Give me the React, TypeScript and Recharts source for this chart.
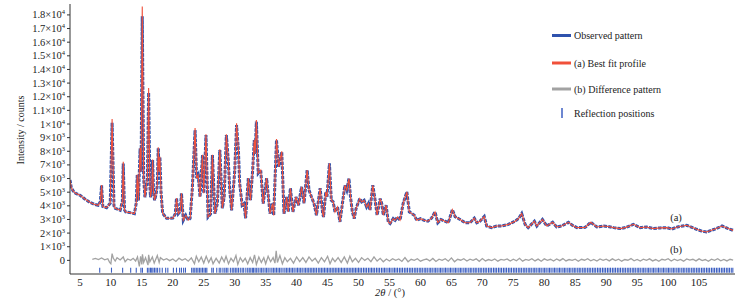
import { ComposedChart, Line, Scatter, XAxis, YAxis } from "recharts";

// 2θ positions of the sampled profile points
const profileTheta = [
  3.4, 3.6, 3.9, 4.3, 5.0, 5.8, 6.6, 7.3, 7.95, 8.3,
  8.5, 8.7, 9.3, 9.9, 10.2, 10.5, 10.7, 11.5, 11.85, 12.0,
  12.2, 12.4, 13.1, 13.8, 14.1, 14.26, 14.45, 14.72, 14.88, 15.07,
  15.3, 15.5, 15.9, 16.1, 16.3, 16.4, 16.6, 16.74, 16.9, 17.06,
  17.3, 17.5, 17.65, 17.8, 17.92, 18.1, 18.36, 19.0, 20.0, 20.4,
  20.6, 20.9, 21.2, 21.4, 21.7, 22.1, 22.5, 22.8, 23.14, 23.6,
  23.85, 24.1, 24.4, 24.8, 25.0, 25.36, 25.7, 26.1, 26.4, 26.8,
  27.2, 27.6, 28.0, 28.3, 28.65, 28.96, 29.2, 29.5, 30.0, 30.3,
  30.6, 30.8, 31.2, 31.5, 31.76, 32.2, 32.55, 32.9, 33.16, 33.3,
  33.5, 33.8, 34.2, 34.6, 35.15, 35.7, 36.1, 36.3, 36.75, 37.1,
  37.6, 37.96, 38.4, 38.65, 39.0, 39.4, 39.9, 40.3, 40.8, 41.2,
  41.7, 42.0, 42.4, 42.8, 43.2, 43.8, 44.2, 44.35, 44.7, 44.9,
  45.3, 45.6, 45.9, 46.2, 46.6, 47.0, 47.4, 47.8, 48.1, 48.45,
  48.7, 49.0, 49.3, 49.6, 50.2, 50.5, 50.9, 51.3, 51.6, 51.85,
  52.3, 52.6, 53.0, 53.5, 53.75, 54.0, 54.3, 54.45, 54.8, 55.1,
  55.6, 55.9, 56.3, 56.7, 57.2, 57.8, 58.2, 58.6, 59.0, 59.4,
  60.0, 60.6, 61.2, 61.8, 62.35, 62.8, 63.3, 63.95, 64.5, 65.15,
  65.6, 66.4, 67.2, 68.0, 68.7, 69.1, 69.6, 70.3, 70.7, 71.5,
  72.3, 73.1, 74.2, 75.3, 75.9, 76.35, 76.9, 77.4, 78.4, 78.8,
  79.7, 80.4, 81.35, 82.0, 82.8, 83.9, 84.7, 85.3, 86.6, 87.5,
  88.5, 89.6, 90.3, 91.2, 92.3, 93.2, 94.4, 95.5, 96.5, 97.6,
  98.7, 99.8, 100.6, 101.5, 103.0, 104.6, 105.4, 106.2, 107.8, 108.7,
  109.6, 110.5,
];

const observed = [
  5900, 5350, 5100, 4920, 4780, 4500, 4260, 4120, 4040, 4300,
  5500, 3950, 3860, 4200, 10100, 4000, 3820, 3670, 4300, 7100,
  3700, 3550, 3500, 3430, 4200, 6250, 4400, 8200, 6500, 17900,
  6000, 4630, 6000, 12300, 5500, 4630, 5200, 7350, 5000, 4410,
  4850, 5500, 8230, 6500, 7570, 5000, 3450, 3090, 3100, 3400,
  4560, 3430, 3600, 4920, 2940, 3300, 2950, 3090, 5150, 9560,
  6020, 6250, 4650, 7720, 4920, 9190, 3180, 3400, 7720, 3420,
  4150, 8090, 3820, 4650, 9190, 7350, 5150, 3670, 6500, 9920,
  8090, 5660, 4040, 4160, 3090, 6030, 4410, 6620, 8820, 7800,
  10170, 6390, 6620, 4160, 6030, 3420, 4160, 3300, 8820, 6860,
  7960, 3420, 4650, 3550, 5290, 3550, 4650, 4040, 5390, 4190,
  6620, 5150, 4650, 4190, 3310, 5290, 3450, 3180, 5020, 4650,
  7110, 4410, 4290, 3550, 3920, 2820, 4190, 5510, 5150, 6000,
  4660, 3560, 3060, 3800, 4530, 4290, 4410, 3920, 4170, 3680,
  5510, 4660, 3310, 4530, 4170, 3310, 3800, 4040, 2820, 2700,
  3060, 2940, 3180, 2940, 4170, 5020, 3560, 3430, 3310, 2940,
  3060, 2940, 2870, 3100, 3550, 2760, 3000, 2870, 2760, 3720,
  3200, 3000, 2760, 2760, 3090, 2760, 2870, 3210, 2520, 2400,
  2520, 2520, 2640, 2870, 3100, 3430, 2640, 2400, 2870, 2520,
  3000, 2520, 2790, 2450, 2520, 2790, 2520, 2400, 2420, 2790,
  2450, 2520, 2480, 2400, 2330, 2420, 2640, 2400, 2450, 2330,
  2380, 2400, 2300, 2450, 2570, 2280, 2150, 2080, 2330, 2520,
  2350, 2200,
];

const fitted = [
  5900, 5350, 5100, 4920, 4780, 4500, 4260, 4120, 4040, 4300,
  5520, 3950, 3860, 4200, 10360, 4000, 3820, 3670, 4300, 7230,
  3700, 3550, 3500, 3430, 4200, 6300, 4400, 8230, 6500, 18620,
  6000, 4630, 6000, 12640, 5500, 4630, 5200, 7400, 5000, 4410,
  4850, 5500, 8300, 6500, 7600, 5000, 3450, 3090, 3100, 3400,
  4560, 3430, 3600, 4920, 2940, 3300, 2950, 3090, 5150, 9700,
  6020, 6250, 4650, 7750, 4920, 9250, 3180, 3400, 7750, 3420,
  4150, 8150, 3820, 4650, 9250, 7350, 5150, 3670, 6500, 10050,
  8090, 5660, 4040, 4160, 3090, 6030, 4410, 6620, 8850, 7800,
  10300, 6390, 6620, 4160, 6030, 3420, 4160, 3300, 8900, 6860,
  8000, 3420, 4650, 3550, 5290, 3550, 4650, 4040, 5390, 4190,
  6620, 5150, 4650, 4190, 3310, 5290, 3450, 3180, 5020, 4650,
  7110, 4410, 4290, 3550, 3920, 2820, 4190, 5510, 5150, 6000,
  4660, 3560, 3060, 3800, 4530, 4290, 4410, 3920, 4170, 3680,
  5510, 4660, 3310, 4530, 4170, 3310, 3800, 4040, 2820, 2700,
  3060, 2940, 3180, 2940, 4170, 5020, 3560, 3430, 3310, 2940,
  3060, 2940, 2870, 3100, 3550, 2760, 3000, 2870, 2760, 3720,
  3200, 3000, 2760, 2760, 3090, 2760, 2870, 3210, 2520, 2400,
  2520, 2520, 2640, 2870, 3100, 3430, 2640, 2400, 2870, 2520,
  3000, 2520, 2790, 2450, 2520, 2790, 2520, 2400, 2420, 2790,
  2450, 2520, 2480, 2400, 2330, 2420, 2640, 2400, 2450, 2330,
  2380, 2400, 2300, 2450, 2570, 2280, 2150, 2080, 2330, 2520,
  2350, 2200,
];

// [2θ, obs - calc]
const differenceData: [number, number][] = [
  [7.0, 80], [7.5, 150], [8.0, 60], [8.5, 180], [9.0, 40], [9.5, 120], [9.8, -150], [10.0, -250],
  [10.2, 500], [10.4, 150], [10.7, -50], [11.0, 200], [11.5, 30], [12.0, 250], [12.3, -100], [12.7, 100],
  [13.2, 0], [13.6, 150], [14.0, -50], [14.3, 250], [14.6, -450], [14.8, 300], [15.0, -300], [15.1, 450],
  [15.3, -150], [15.6, 200], [16.0, -350], [16.1, 400], [16.3, -100], [16.7, 250], [17.0, -200], [17.5, 350],
  [17.8, -150], [18.0, 200], [18.5, 20], [19.0, 120], [19.5, -20], [20.0, 100], [20.5, -80], [21.0, 160],
  [21.5, 0], [22.0, 120], [22.5, -60], [23.0, 180], [23.5, -250], [23.8, 300], [24.2, -100], [24.6, 250],
  [25.0, -200], [25.4, 300], [25.8, -150], [26.2, 200], [26.5, -250], [27.0, 150], [27.5, -200], [27.9, 250],
  [28.3, -100], [28.6, 300], [29.0, -250], [29.4, 150], [29.8, -100], [30.2, 350], [30.5, -300], [30.9, 200],
  [31.3, -100], [31.7, 150], [32.1, -250], [32.5, 200], [32.9, -150], [33.2, 400], [33.5, -300], [33.9, 250],
  [34.3, -150], [34.7, 200], [35.0, -250], [35.4, 300], [35.8, -100], [36.2, 200], [36.5, -200], [36.7, 700],
  [36.9, -150], [37.3, 350], [37.7, -250], [38.1, 200], [38.5, -100], [39.0, 150], [39.5, -200], [40.0, 250],
  [40.5, -100], [41.0, 200], [41.5, -150], [42.0, 250], [42.5, -50], [43.0, 150], [43.5, -200], [44.0, 200],
  [44.5, -100], [45.0, 300], [45.4, -250], [45.8, 150], [46.2, -100], [46.7, 200], [47.2, -150], [47.7, 250],
  [48.2, -200], [48.6, 300], [49.0, -100], [49.5, 150], [50.0, -150], [50.5, 200], [51.0, 0], [51.5, 150],
  [52.0, -100], [52.5, 250], [53.0, -50], [53.5, 150], [54.0, -100], [54.5, 100], [55.0, -50], [55.5, 120],
  [56.0, 0], [56.5, 100], [57.0, -80], [57.5, 200], [58.0, -100], [58.5, 80], [59.0, 0], [59.5, 120],
  [60.0, -60], [60.5, 40], [61.0, 100], [61.5, -40], [62.0, 140], [62.5, -80], [63.0, 90], [63.5, 0],
  [64.0, 120], [64.5, -60], [65.0, 180], [65.5, -100], [66.0, 80], [66.5, 10], [67.0, 120], [67.5, -50],
  [68.0, 90], [68.5, 0], [69.0, 110], [69.5, -70], [70.0, 130], [70.5, -40], [71.0, 60], [71.5, -20],
  [72.0, 100], [72.5, -60], [73.0, 70], [73.5, 20], [74.0, 110], [74.5, -50], [75.0, 80], [75.5, -30],
  [76.0, 150], [76.5, -60], [77.0, 70], [77.5, 0], [78.0, 120], [78.5, -40], [79.0, 90], [79.5, -60],
  [80.0, 110], [80.5, 0], [81.0, 80], [81.5, -50], [82.0, 100], [82.5, -20], [83.0, 130], [83.5, -40],
  [84.0, 60], [84.5, 0], [85.0, 90], [85.5, -60], [86.0, 80], [86.5, 10], [87.0, 120], [87.5, -30],
  [88.0, 70], [88.5, -50], [89.0, 100], [89.5, 0], [90.0, 90], [90.5, -40], [91.0, 110], [91.5, -20],
  [92.0, 80], [92.5, -60], [93.0, 60], [93.5, 10], [94.0, 130], [94.5, -30], [95.0, 70], [95.5, -50],
  [96.0, 90], [96.5, 0], [97.0, 110], [97.5, -40], [98.0, 60], [98.5, -70], [99.0, 80], [99.5, 20],
  [100.0, 120], [100.5, -50], [101.0, 90], [101.5, -10], [102.0, 70], [102.5, -60], [103.0, 100], [103.5, 20],
  [104.0, 80], [104.5, -40], [105.0, 110], [105.5, -20], [106.0, 60], [106.5, -70], [107.0, 90], [107.5, 0],
  [108.0, 120], [108.5, -30], [109.0, 70], [109.5, -40], [110.0, 80], [110.5, 20],
];

// Bragg reflection positions (2θ)
const reflections = [
  8.2, 10.1, 11.9, 13.2, 14.1, 14.85, 15.1, 15.9, 16.15, 16.4, 16.6, 16.8, 17.05, 17.3, 17.55, 17.9,
  18.3, 18.85, 19.2, 20.1, 20.6, 21.1, 21.4, 21.75, 22.05, 23.05, 23.3, 23.55, 23.8, 24.05, 24.3, 24.55,
  24.8, 25.05, 25.3, 25.5, 26.3, 26.55, 27.1, 27.5, 27.75, 28.1, 28.4, 28.65, 28.9, 29.3, 29.6, 29.85,
  30.1, 30.35, 30.6, 30.9, 31.2, 31.45, 31.8, 32.1, 32.35, 32.6, 32.85, 33.05, 33.3, 33.55, 33.8, 34.1,
  34.35, 34.6, 34.9, 35.15, 35.4, 35.7, 36.0, 36.25, 36.5, 36.75, 37.0, 37.25, 37.5, 37.8, 38.1, 38.35,
  38.6, 38.85, 39.1, 39.35, 39.6, 39.9, 40.15, 40.4, 40.65, 40.9, 41.2, 41.45, 41.7, 41.95, 42.2, 42.45,
  42.7, 42.95, 43.2, 43.5, 43.75, 44.0, 44.25, 44.5, 44.75, 45.0, 45.25, 45.5, 45.75, 46.0, 46.25, 46.5,
  46.75, 47.0, 47.25, 47.5, 47.75, 48.0, 48.25, 48.5, 48.75, 49.0, 49.25, 49.5, 49.75, 50.0,
  50.25, 50.5, 50.8, 51.05, 51.3, 51.6, 51.85, 52.1, 52.35, 52.6, 52.9, 53.15, 53.4, 53.7, 53.95, 54.2,
  54.45, 54.75, 55.0, 55.25, 55.55, 55.8, 56.05, 56.3, 56.6, 56.85, 57.1, 57.4, 57.65, 57.9, 58.2, 58.45,
  58.7, 59.0, 59.25, 59.5, 59.8, 60.05, 60.3, 60.6, 60.85, 61.1, 61.4, 61.65, 61.9, 62.2, 62.45, 62.7,
  63.0, 63.25, 63.5, 63.8, 64.05, 64.3, 64.6, 64.85, 65.1, 65.4, 65.65, 65.9, 66.2, 66.45, 66.7, 67.0,
  67.25, 67.5, 67.8, 68.05, 68.3, 68.6, 68.85, 69.1, 69.4, 69.65, 69.9, 70.2, 70.45, 70.7, 71.0, 71.25,
  71.5, 71.8, 72.05, 72.3, 72.6, 72.85, 73.1, 73.4, 73.65, 73.9, 74.2, 74.45, 74.7, 75.0, 75.25, 75.5,
  75.8, 76.05, 76.3, 76.6, 76.85, 77.1, 77.4, 77.65, 77.9, 78.2, 78.45, 78.7, 79.0, 79.25, 79.5, 79.8,
  80.05, 80.3, 80.6, 80.85, 81.1, 81.4, 81.65, 81.9, 82.2, 82.45, 82.7, 83.0, 83.25, 83.5, 83.8, 84.05,
  84.3, 84.6, 84.85, 85.1, 85.4, 85.65, 85.9, 86.2, 86.45, 86.7, 87.0, 87.25, 87.5, 87.8, 88.05, 88.3,
  88.6, 88.85, 89.1, 89.4, 89.65, 89.9, 90.2, 90.45, 90.7, 91.0, 91.25, 91.5, 91.8, 92.05, 92.3, 92.6,
  92.85, 93.1, 93.4, 93.65, 93.9, 94.2, 94.45, 94.7, 95.0, 95.25, 95.5, 95.8, 96.05, 96.3, 96.6, 96.85,
  97.1, 97.4, 97.65, 97.9, 98.2, 98.45, 98.7, 99.0, 99.25, 99.5, 99.8, 100.05, 100.3, 100.6, 100.85, 101.1,
  101.4, 101.65, 101.9, 102.2, 102.45, 102.7, 103.0, 103.25, 103.5, 103.8, 104.05, 104.3, 104.6, 104.85, 105.1, 105.4,
  105.65, 105.9, 106.2, 106.45, 106.7, 107.0, 107.25, 107.5, 107.8, 108.05, 108.3, 108.6, 108.85, 109.1, 109.4, 109.65,
  109.9, 110.2, 110.45,
];

const xTicks = [5, 10, 15, 20, 25, 30, 35, 40, 45, 50, 55, 60, 65, 70, 75, 80, 85, 90, 95, 100, 105];
const yTicks = [0, 1000, 2000, 3000, 4000, 5000, 6000, 7000, 8000, 9000, 10000, 11000, 12000, 13000, 14000, 15000, 16000, 17000, 18000];

const FONT = "'Liberation Serif', 'Times New Roman', serif";
const BLUE = "#2f52ad";
const RED = "#f0503a";
const GRAY = "#a2a2a2";
const TICK_BLUE = "#3c5fc2";
const REFL_LEVEL = -720;

const profile = profileTheta.map((t, i) => ({ t, obs: observed[i], calc: fitted[i] }));
const diff = differenceData.map(([t, d]) => ({ t, d }));
const refl = reflections.map((t) => ({ t, r: REFL_LEVEL }));

const YTick = (props: any) => {
  const { x, y, payload } = props;
  const v = payload.value as number;
  if (v === 0) {
    return (
      <text x={x} y={y + 3.5} textAnchor="end" fontSize={10.5} fontFamily={FONT} fill="#222">
        0
      </text>
    );
  }
  const exp = v >= 10000 ? 4 : 3;
  const mant = v / Math.pow(10, exp);
  return (
    <text x={x} y={y + 3.5} textAnchor="end" fontSize={10.5} fontFamily={FONT} fill="#222">
      {mant}×10<tspan dy={-4} fontSize={6.5}>{exp}</tspan>
    </text>
  );
};

const ReflTick = (props: any) => {
  const { cx, cy } = props;
  return <line x1={cx} x2={cx} y1={cy - 2.5} y2={cy + 2.5} stroke={TICK_BLUE} strokeWidth={1.1} />;
};

export default function App() {
  return (
    <div style={{ position: "absolute", left: 0, top: 0, width: 742, height: 304, background: "#fff" }}>
      <ComposedChart width={742} height={304} margin={{ top: 4, right: 7, bottom: 0, left: 0 }}>
        <XAxis
          type="number"
          dataKey="t"
          domain={[3.4, 110.8]}
          ticks={xTicks}
          interval={0}
          allowDataOverflow
          height={30}
          tickLine={false}
          tickSize={0}
          tickMargin={4}
          axisLine={{ stroke: "#333" }}
          tick={{ fontSize: 11, fontFamily: FONT, fill: "#222" }}
        />
        <YAxis
          type="number"
          domain={[-1000, 18800]}
          ticks={yTicks}
          interval={0}
          allowDataOverflow
          width={70}
          tickSize={3}
          tickMargin={2}
          tickLine={{ stroke: "#333" }}
          axisLine={{ stroke: "#333" }}
          tick={<YTick />}
        />
        <Line
          data={diff}
          dataKey="d"
          type="linear"
          stroke={GRAY}
          strokeWidth={1.3}
          dot={false}
          isAnimationActive={false}
        />
        <Scatter data={refl} dataKey="r" shape={<ReflTick />} isAnimationActive={false} />
        <Line
          data={profile}
          dataKey="obs"
          type="linear"
          stroke={BLUE}
          strokeWidth={3}
          strokeDasharray="3.5 1.2"
          dot={false}
          isAnimationActive={false}
        />
        <Line
          data={profile}
          dataKey="calc"
          type="linear"
          stroke={RED}
          strokeWidth={1.1}
          dot={false}
          isAnimationActive={false}
        />
      </ComposedChart>
      <svg
        width={742}
        height={304}
        style={{ position: "absolute", left: 0, top: 0, pointerEvents: "none" }}
        fontFamily={FONT}
        fill="#222"
      >
        <text x={21} y={130} fontSize={10} textAnchor="middle" transform="rotate(-90 21 130)" dy={3}>
          Intensity / counts
        </text>
        <text x={390} y={296} fontSize={10.5} textAnchor="middle">
          <tspan fontStyle="italic">2θ</tspan> / (°)
        </text>
        <text x={676} y={221} fontSize={10.5} textAnchor="middle">(a)</text>
        <text x={676} y={253} fontSize={10.5} textAnchor="middle">(b)</text>

        <line x1={552} x2={571} y1={35.5} y2={35.5} stroke={BLUE} strokeWidth={3} />
        <text x={574} y={39} fontSize={10}>Observed pattern</text>
        <line x1={552} x2={571} y1={63} y2={63} stroke={RED} strokeWidth={3} />
        <text x={574} y={66.5} fontSize={10}>(a) Best fit profile</text>
        <line x1={552} x2={571} y1={89} y2={89} stroke={GRAY} strokeWidth={3} />
        <text x={574} y={92.5} fontSize={10}>(b) Difference pattern</text>
        <line x1={562} x2={562} y1={108} y2={118} stroke={TICK_BLUE} strokeWidth={1.5} />
        <text x={574} y={117} fontSize={10}>Reflection positions</text>
      </svg>
    </div>
  );
}
